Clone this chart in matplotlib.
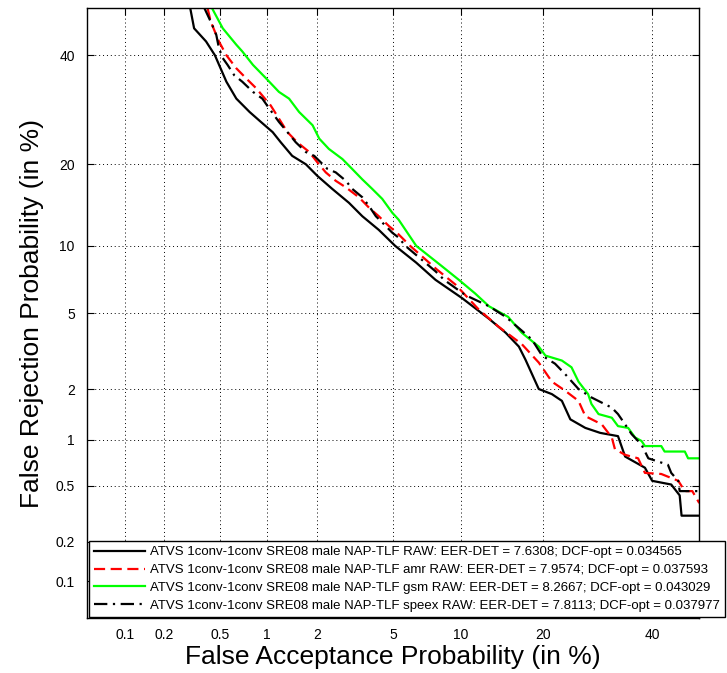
import numpy as np
import matplotlib
matplotlib.use('Agg')
import matplotlib.pyplot as plt
from statistics import NormalDist

# DET curves (percentages)
raw_fa = [0.31, 0.33, 0.40, 0.46, 0.55, 0.64, 0.78, 0.92, 1.09, 1.22, 1.43, 1.72, 2.0, 2.42, 2.98, 3.5, 4.24, 5.1, 6.4, 7.8,
          10.1, 12.9, 14.9, 16.6, 17.5, 19.4, 21.4, 23.0, 24.4, 27.0, 29.7, 33.1, 34.5, 38.5, 40.0, 44.0, 45.8, 46.2, 50.0]
raw_fr = [50, 45.7, 42.9, 40, 34.6, 31.3, 28.8, 27, 25.2, 23.5, 21.3, 20, 18.3, 16.5, 14.7, 13.1, 11.6, 10, 8.5, 7.15,
          5.9, 4.7, 4.0, 3.4, 2.9, 2.0, 1.87, 1.71, 1.33, 1.18, 1.1, 1.05, 0.78, 0.66, 0.54, 0.51, 0.43, 0.31, 0.31]

amr_fa = [0.41, 0.43, 0.49, 0.55, 0.64, 0.74, 0.86, 1.06, 1.19, 1.34, 1.53, 1.8, 2.0, 2.23, 2.53, 2.87, 3.36, 3.79, 4.24,
          4.76, 5.2, 6.0, 7.9, 9.5, 11.8, 14.0, 17.0, 19.4, 21.4, 23.5, 25.8, 27.0, 30.0, 31.9, 32.5, 34.5, 37.1, 38.5,
          41.9, 45.5, 46.9, 48.5, 50.0]
amr_fr = [50, 47.2, 42.9, 40, 37.3, 35.3, 33.3, 30, 27.6, 25.2, 23.5, 21.9, 20.3, 18.8, 17.6, 16.7, 15.4, 14.1, 13.1,
          12.0, 11.3, 10.0, 7.95, 6.8, 5.2, 4.3, 3.5, 2.8, 2.2, 1.96, 1.71, 1.39, 1.24, 1.03, 0.87, 0.80, 0.76, 0.61,
          0.6, 0.54, 0.46, 0.46, 0.38]

gsm_fa = [0.44, 0.52, 0.64, 0.70, 0.82, 0.99, 1.19, 1.37, 1.57, 1.88, 2.05, 2.32, 2.75, 3.1, 3.5, 3.93, 4.41, 4.94, 5.3,
          6.4, 8.2, 9.8, 11.4, 12.9, 15.2, 17.0, 19.4, 20.4, 23.0, 24.6, 25.8, 27.5, 28.1, 29.4, 31.9, 33.1, 35.1, 36.5,
          37.8, 38.5, 41.9, 42.6, 46.9, 47.6, 50.0]
gsm_fr = [50, 45.7, 42.2, 40.8, 38, 35.3, 32.6, 31.3, 28.8, 26.4, 24.1, 22.4, 20.8, 19.3, 17.8, 16.5, 15.2, 13.5, 12.7,
          10.0, 8.3, 7.15, 6.2, 5.4, 4.8, 4.0, 3.4, 3.05, 2.87, 2.64, 2.2, 1.87, 1.64, 1.43, 1.36, 1.21, 1.18, 1.03,
          0.98, 0.91, 0.91, 0.84, 0.84, 0.76, 0.76]

speex_fa = [0.39, 0.44, 0.47, 0.49, 0.52, 0.56, 0.62, 0.70, 0.82, 0.94, 1.04, 1.19, 1.34, 1.5, 1.72, 1.92, 2.28, 2.53,
            2.87, 3.1, 3.5, 3.79, 4.1, 4.41, 4.94, 5.3, 5.7, 7.8, 8.5, 10.4, 12.9, 14.9, 17.0, 18.4, 19.9, 21.9, 23.5,
            25.8, 28.1, 31.9, 33.1, 34.5, 35.8, 37.8, 39.2, 43.3, 44.0, 45.5, 45.8, 50.0]
speex_fr = [50, 46.5, 44.3, 41.5, 39.4, 38, 35.9, 34.6, 32.6, 31.3, 29.4, 27, 25.2, 23.5, 21.9, 21.3, 19.3, 18.8,
            17.6, 16.5, 15.4, 14.3, 13.1, 12.4, 11.3, 10.8, 10.0, 7.8, 7.15, 6.1, 5.4, 4.8, 4.1, 3.7, 3.05, 2.76, 2.43,
            2.0, 1.79, 1.56, 1.43, 1.24, 1.08, 0.93, 0.76, 0.69, 0.61, 0.54, 0.46, 0.46]

labels = [
    'ATVS 1conv-1conv SRE08 male NAP-TLF RAW: EER-DET = 7.6308; DCF-opt = 0.034565',
    'ATVS 1conv-1conv SRE08 male NAP-TLF amr RAW: EER-DET = 7.9574; DCF-opt = 0.037593',
    'ATVS 1conv-1conv SRE08 male NAP-TLF gsm RAW: EER-DET = 8.2667; DCF-opt = 0.043029',
    'ATVS 1conv-1conv SRE08 male NAP-TLF speex RAW: EER-DET = 7.8113; DCF-opt = 0.037977',
]
ticks = [0.1, 0.2, 0.5, 1, 2, 5, 10, 20, 40]
tick_labels = ['0.1', '0.2', '0.5', '1', '2', '5', '10', '20', '40']

_nd = NormalDist()
_ppf = np.vectorize(_nd.inv_cdf, otypes=[float])
_cdf = np.vectorize(_nd.cdf, otypes=[float])


def probit(p):
    p = np.clip(np.asarray(p, dtype=float) / 100.0, 1e-9, 1 - 1e-9)
    return _ppf(p)


def inv_probit(z):
    return _cdf(np.asarray(z, dtype=float)) * 100.0


plt.rcParams['font.family'] = ['Liberation Sans', 'DejaVu Sans']

fig = plt.figure(figsize=(7.27, 6.73), dpi=100)
ax = fig.add_axes([0.1201, 0.0813, 0.8418, 0.9064])

lw = 1.6
ax.plot(raw_fa, raw_fr, color='black', linestyle='-', linewidth=lw, label=labels[0])
ax.plot(amr_fa, amr_fr, color='red', linestyle=(0, (5, 2.5)), linewidth=lw, label=labels[1])
ax.plot(gsm_fa, gsm_fr, color='#00ff00', linestyle='-', linewidth=lw, label=labels[2])
ax.plot(speex_fa, speex_fr, color='black', linestyle=(0, (6, 2.5, 1, 2.5)), linewidth=lw, label=labels[3])

ax.set_xscale('function', functions=(probit, inv_probit))
ax.set_yscale('function', functions=(probit, inv_probit))
ax.set_xlim(0.05, 50)
ax.set_ylim(0.05, 50)
ax.set_xticks(ticks)
ax.set_xticklabels(tick_labels)
ax.set_yticks(ticks)
ax.set_yticklabels(tick_labels)
ax.minorticks_off()
ax.tick_params(direction='in', top=True, right=True, length=5, labelsize=10)
ax.tick_params(axis='x', pad=7)
ax.tick_params(axis='y', pad=9)
ax.grid(True, linestyle=(0, (1, 3)), color='black', linewidth=0.7)
for s in ax.spines.values():
    s.set_linewidth(1.0)

ax.set_xlabel('False Acceptance Probability (in %)', fontsize=19, labelpad=2)
ax.set_ylabel('False Rejection Probability (in %)', fontsize=19, labelpad=8)

leg = ax.legend(loc='lower left', bbox_to_anchor=(0.003, 0.002), fontsize=9.5, frameon=True,
                fancybox=False, edgecolor='black', framealpha=1, handlelength=3.8,
                handletextpad=0.4, labelspacing=0.42, borderpad=0.4, borderaxespad=0)
leg.get_frame().set_linewidth(1.0)

fig.savefig('out.png', dpi=100)
